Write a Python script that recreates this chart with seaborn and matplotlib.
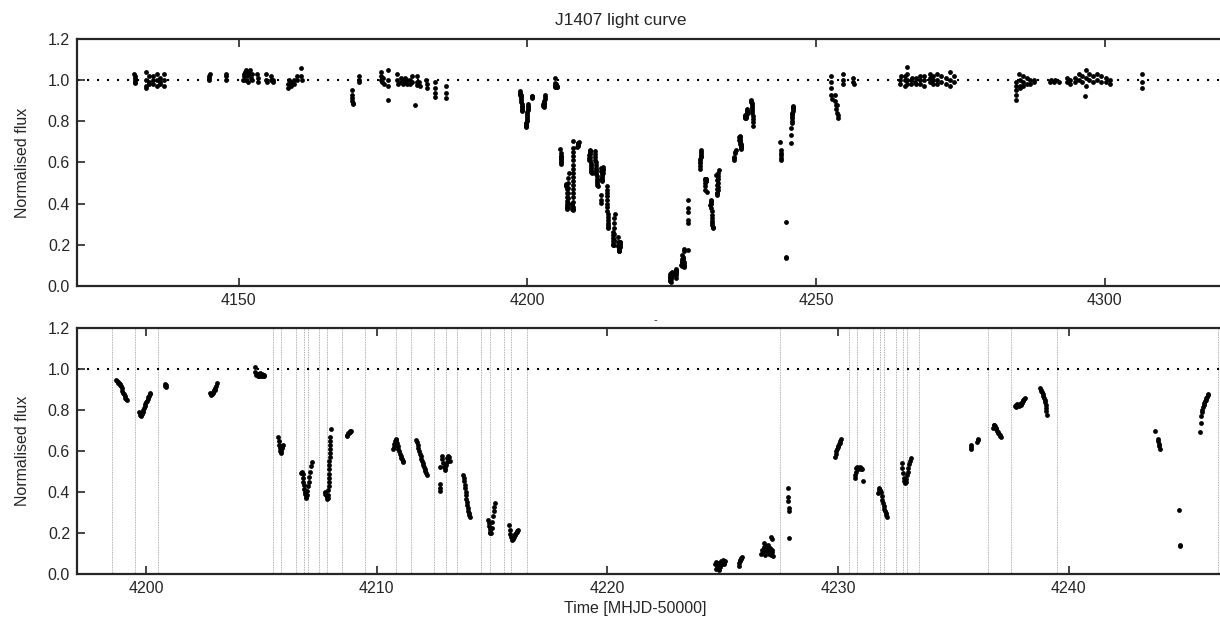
import numpy as np
import pandas as pd
import matplotlib
matplotlib.use('Agg')
import matplotlib.pyplot as plt
import seaborn as sns

# light curve points inside the zoomed window (MHJD-50000, normalised flux)
t_zoom = [
    4198.70, 4198.73, 4198.76, 4198.79, 4198.82, 4198.85, 4198.88, 4198.91, 4198.94, 4198.97, 4199.00, 4199.03, 4199.06, 4199.09, 4199.12, 4199.15,
    4199.70, 4199.73, 4199.76, 4199.79, 4199.82, 4199.85, 4199.88, 4199.91, 4199.94, 4199.97, 4200.00, 4200.03, 4200.06, 4200.09, 4200.12, 4200.15, 4200.17,
    4200.80, 4200.82, 4200.84, 4200.86,
    4202.76, 4202.79, 4202.82, 4202.85, 4202.88, 4202.91, 4202.94, 4202.97, 4203.00, 4203.03, 4203.06,
    4204.72, 4204.74, 4204.77, 4204.80, 4204.83, 4204.86, 4204.89, 4204.92, 4204.95, 4204.98, 4205.01, 4205.04, 4205.07, 4205.10, 4205.13,
    4205.73, 4205.76, 4205.78, 4205.80, 4205.82, 4205.84, 4205.86, 4205.88, 4205.90, 4205.92,
    4206.72, 4206.75, 4206.78, 4206.80, 4206.82, 4206.84, 4206.86, 4206.88, 4206.90, 4206.92, 4206.94, 4206.96, 4206.99, 4207.02, 4207.05, 4207.08, 4207.11, 4207.14, 4207.17,
    4207.74, 4207.77, 4207.80, 4207.83, 4207.86, 4207.89,
    4207.90, 4207.905, 4207.91, 4207.92, 4207.925, 4207.93, 4207.94, 4207.945, 4207.95, 4207.96, 4207.965, 4207.97, 4207.98, 4207.985, 4207.99, 4208.00,
    4208.70, 4208.73, 4208.76, 4208.79, 4208.82, 4208.85, 4208.88,
    4210.70, 4210.73, 4210.76, 4210.79, 4210.82, 4210.85, 4210.88, 4210.91, 4210.94, 4210.97, 4211.00, 4211.03, 4211.06, 4211.09, 4211.12, 4211.15,
    4211.72, 4211.75, 4211.78, 4211.81, 4211.84, 4211.87, 4211.90, 4211.93, 4211.96, 4211.99, 4212.02, 4212.05, 4212.08, 4212.11, 4212.14, 4212.17,
    4212.73, 4212.74, 4212.75, 4212.76,
    4212.82, 4212.85, 4212.88, 4212.91, 4212.94, 4212.97, 4213.00, 4213.03, 4213.06, 4213.09, 4213.13, 4213.17,
    4213.75, 4213.77, 4213.79, 4213.81, 4213.83, 4213.85, 4213.87, 4213.89, 4213.91, 4213.93, 4213.95, 4213.97, 4213.99, 4214.01, 4214.03,
    4214.83, 4214.85, 4214.87, 4214.89, 4214.91, 4214.93, 4214.95, 4214.98, 4215.01, 4215.04, 4215.07, 4215.10, 4215.13,
    4215.74, 4215.77, 4215.80, 4215.83, 4215.86, 4215.89, 4215.92, 4215.95, 4215.98, 4216.01, 4216.04, 4216.07, 4216.10, 4216.13,
    4224.66, 4224.70, 4224.74, 4224.78, 4224.82, 4224.86, 4224.90, 4224.94, 4224.98, 4225.02, 4225.06, 4225.10, 4224.72, 4224.80, 4224.88, 4224.96, 4225.04,
    4225.70, 4225.72, 4225.74, 4225.76, 4225.78, 4225.80, 4225.84,
    4226.68, 4226.72, 4226.76, 4226.80, 4226.84, 4226.88, 4226.92, 4226.96, 4227.00, 4227.04, 4227.08, 4227.12, 4227.16, 4227.19, 4226.78, 4226.90, 4227.02, 4227.10, 4227.14,
    4227.84, 4227.85, 4227.855, 4227.86, 4227.865, 4227.87,
    4229.87, 4229.90, 4229.93, 4229.96, 4229.99, 4230.02, 4230.05, 4230.08, 4230.11, 4230.14,
    4230.74, 4230.76, 4230.78, 4230.80, 4230.83, 4230.86, 4230.89, 4230.92, 4230.95, 4230.98, 4231.01, 4231.04, 4231.08,
    4231.74, 4231.77, 4231.80, 4231.83, 4231.86, 4231.89, 4231.92, 4231.95, 4231.98, 4232.01, 4232.04, 4232.07, 4232.10, 4232.13,
    4232.76, 4232.79, 4232.82, 4232.85, 4232.88, 4232.91, 4232.94, 4232.97, 4233.00, 4233.03, 4233.06, 4233.09, 4233.12, 4233.15,
    4235.75, 4235.77, 4235.79, 4236.05, 4236.07, 4236.09,
    4236.72, 4236.75, 4236.78, 4236.81, 4236.84, 4236.87, 4236.90, 4236.93, 4236.96, 4236.99, 4237.02, 4237.05, 4237.08,
    4237.68, 4237.71, 4237.74, 4237.77, 4237.80, 4237.83, 4237.86, 4237.89, 4237.92, 4237.95, 4237.98, 4238.01, 4238.04, 4238.07, 4238.10,
    4238.76, 4238.79, 4238.82, 4238.85, 4238.88, 4238.91, 4238.94, 4238.97, 4239.00, 4239.02, 4239.03, 4239.04, 4239.05,
    4243.75, 4243.88, 4243.90, 4243.92, 4243.94, 4243.96,
    4244.80, 4244.82, 4244.84,
    4245.72, 4245.74, 4245.76, 4245.78, 4245.80, 4245.83, 4245.86, 4245.89, 4245.92, 4245.95, 4245.98, 4246.01, 4246.04, 4246.07,
]
f_zoom = [
    0.945, 0.940, 0.936, 0.933, 0.930, 0.928, 0.924, 0.915, 0.905, 0.895, 0.885, 0.876, 0.868, 0.860, 0.853, 0.848,
    0.790, 0.778, 0.772, 0.775, 0.780, 0.790, 0.800, 0.808, 0.818, 0.828, 0.838, 0.846, 0.855, 0.862, 0.870, 0.876, 0.882,
    0.925, 0.918, 0.912, 0.922,
    0.885, 0.876, 0.872, 0.878, 0.882, 0.890, 0.896, 0.900, 0.908, 0.918, 0.930,
    1.010, 0.985, 0.970, 0.978, 0.965, 0.975, 0.968, 0.980, 0.972, 0.966, 0.976, 0.970, 0.965, 0.972, 0.968,
    0.668, 0.648, 0.630, 0.615, 0.600, 0.592, 0.600, 0.615, 0.625, 0.630,
    0.492, 0.496, 0.488, 0.470, 0.450, 0.432, 0.415, 0.400, 0.388, 0.378, 0.372, 0.385, 0.405, 0.428, 0.450, 0.475, 0.500, 0.525, 0.548,
    0.400, 0.392, 0.385, 0.375, 0.368, 0.372,
    0.385, 0.41, 0.43, 0.45, 0.47, 0.49, 0.51, 0.53, 0.55, 0.57, 0.59, 0.61, 0.63, 0.65, 0.67, 0.705,
    0.675, 0.680, 0.686, 0.690, 0.694, 0.697, 0.700,
    0.612, 0.620, 0.635, 0.650, 0.660, 0.655, 0.640, 0.625, 0.610, 0.598, 0.587, 0.577, 0.568, 0.560, 0.553, 0.548,
    0.655, 0.642, 0.628, 0.614, 0.600, 0.587, 0.575, 0.563, 0.552, 0.542, 0.532, 0.522, 0.512, 0.502, 0.492, 0.484,
    0.440, 0.420, 0.405, 0.522,
    0.575, 0.560, 0.540, 0.520, 0.508, 0.515, 0.530, 0.548, 0.565, 0.578, 0.570, 0.550,
    0.485, 0.468, 0.452, 0.435, 0.418, 0.400, 0.383, 0.366, 0.350, 0.335, 0.320, 0.307, 0.296, 0.287, 0.280,
    0.262, 0.248, 0.232, 0.218, 0.205, 0.198, 0.200, 0.225, 0.255, 0.282, 0.305, 0.328, 0.348,
    0.240, 0.215, 0.195, 0.180, 0.168, 0.170, 0.175, 0.182, 0.190, 0.196, 0.202, 0.207, 0.212, 0.216,
    0.050, 0.060, 0.040, 0.030, 0.055, 0.020, 0.045, 0.065, 0.050, 0.070, 0.055, 0.062, 0.025, 0.045, 0.035, 0.058, 0.048,
    0.040, 0.055, 0.062, 0.068, 0.072, 0.078, 0.082,
    0.100, 0.115, 0.108, 0.130, 0.095, 0.120, 0.110, 0.140, 0.100, 0.125, 0.095, 0.115, 0.105, 0.090, 0.150, 0.135, 0.120, 0.180, 0.170,
    0.418, 0.378, 0.358, 0.322, 0.308, 0.177,
    0.570, 0.585, 0.598, 0.608, 0.618, 0.625, 0.632, 0.640, 0.650, 0.660,
    0.468, 0.485, 0.500, 0.515, 0.522, 0.518, 0.512, 0.516, 0.520, 0.514, 0.518, 0.512, 0.455,
    0.395, 0.410, 0.418, 0.412, 0.398, 0.380, 0.362, 0.345, 0.330, 0.318, 0.306, 0.296, 0.288, 0.280,
    0.540, 0.515, 0.492, 0.470, 0.452, 0.443, 0.450, 0.465, 0.482, 0.500, 0.518, 0.535, 0.550, 0.565,
    0.610, 0.620, 0.628, 0.645, 0.652, 0.660,
    0.710, 0.725, 0.728, 0.722, 0.712, 0.705, 0.700, 0.692, 0.688, 0.682, 0.678, 0.672, 0.668,
    0.820, 0.825, 0.815, 0.830, 0.822, 0.826, 0.818, 0.828, 0.832, 0.826, 0.835, 0.842, 0.848, 0.852, 0.858,
    0.905, 0.900, 0.895, 0.888, 0.880, 0.870, 0.860, 0.850, 0.840, 0.825, 0.810, 0.795, 0.778,
    0.700, 0.660, 0.648, 0.635, 0.622, 0.612,
    0.312, 0.142, 0.135,
    0.695, 0.735, 0.770, 0.790, 0.800, 0.815, 0.825, 0.835, 0.842, 0.850, 0.858, 0.865, 0.872, 0.876,
]

# points outside the zoomed window (only in the full light curve)
t_wide = [
    4131.95, 4132.00, 4132.02, 4132.06, 4132.10, 4132.12,
    4133.92, 4133.95, 4133.98, 4134.00, 4134.50, 4134.53, 4134.55, 4135.18, 4135.21, 4135.24,
    4135.78, 4135.80, 4135.83, 4136.35, 4136.38, 4136.40, 4137.03, 4137.06, 4137.09,
    4144.78, 4144.85, 4144.95, 4145.02, 4147.78, 4147.82, 4147.86,
    4150.75, 4150.85, 4150.95, 4151.05, 4151.15, 4151.25, 4151.40, 4151.55, 4151.70, 4151.80,
    4152.00, 4152.10, 4152.25, 4152.40, 4153.25, 4153.30, 4153.35,
    4154.75, 4154.80, 4154.85, 4155.55, 4155.60, 4155.90, 4155.95,
    4158.55, 4158.60, 4158.65, 4159.10, 4159.15, 4159.55, 4159.60, 4160.10, 4160.15, 4160.80, 4160.85, 4160.90,
    4169.65, 4169.68, 4169.70, 4169.72, 4169.75, 4169.78, 4170.85, 4170.88, 4170.90,
    4174.60, 4174.65, 4174.70, 4174.75, 4175.05, 4175.10, 4175.85, 4175.90, 4175.92, 4175.95,
    4177.45, 4177.50, 4177.55, 4178.10, 4178.15, 4178.45, 4178.50, 4178.80, 4178.85, 4179.20,
    4179.25, 4179.60, 4179.65, 4179.95, 4180.00, 4180.55,
    4180.85, 4180.90, 4180.95, 4181.30, 4181.35, 4182.50, 4182.55, 4182.60,
    4184.00, 4184.03, 4184.06, 4184.10, 4185.88, 4185.90, 4185.92,
    4252.55, 4252.60, 4252.65, 4252.70, 4252.75, 4253.30, 4253.35, 4253.40, 4253.50, 4253.60,
    4253.70, 4253.80, 4253.85, 4254.70, 4254.72, 4254.75, 4256.45, 4256.50, 4256.55,
    4264.60, 4264.63, 4264.66, 4265.35, 4265.38, 4265.42, 4265.75, 4265.78, 4265.80, 4265.83,
    4266.50, 4266.55, 4266.58, 4267.25, 4267.28, 4267.30, 4267.95, 4268.00, 4268.02,
    4268.70, 4268.74, 4268.78, 4269.68, 4269.72, 4269.75, 4270.25, 4270.30, 4270.35,
    4270.95, 4271.00, 4271.02, 4271.70, 4271.75, 4272.58, 4272.62, 4273.15, 4273.20, 4273.25,
    4273.85, 4273.90,
    4284.58, 4284.60, 4284.62, 4284.64, 4284.66, 4285.25, 4285.29, 4285.32, 4285.35,
    4285.85, 4285.88, 4285.90, 4286.55, 4286.58, 4287.12, 4287.15, 4287.70, 4287.73,
    4290.55, 4290.65, 4291.30, 4291.40, 4292.10,
    4293.49, 4293.52, 4294.07, 4294.10, 4294.81, 4294.84, 4295.56, 4295.60, 4296.14, 4296.17,
    4296.72, 4296.75, 4296.78, 4296.70, 4297.29, 4297.32, 4297.99, 4298.02, 4298.68, 4298.71,
    4299.43, 4299.46, 4300.18, 4300.21, 4300.87, 4300.90,
    4306.48, 4306.50, 4306.52,
]
f_wide = [
    1.03, 1.01, 0.99, 1.00, 1.02, 0.985,
    1.04, 1.00, 0.97, 0.96, 1.02, 0.99, 0.98, 1.02, 1.00, 0.98,
    1.03, 1.00, 0.97, 1.01, 0.99, 0.98, 1.03, 1.00, 0.97,
    1.00, 1.02, 1.01, 1.03, 1.00, 1.02, 1.03,
    1.00, 1.03, 1.02, 1.04, 1.00, 1.05, 1.02, 1.04, 0.99, 1.03,
    1.05, 1.01, 1.03, 1.00, 1.03, 1.01, 0.99,
    1.03, 1.00, 0.99, 1.02, 1.00, 1.00, 0.99,
    0.98, 0.96, 1.00, 0.97, 0.99, 0.98, 1.00, 1.00, 1.02, 1.06, 1.02, 1.00,
    0.95, 0.93, 0.915, 0.90, 0.89, 0.885, 1.00, 1.02, 0.99,
    1.02, 1.04, 1.00, 0.99, 1.01, 0.98, 1.05, 1.00, 0.97, 0.904,
    1.03, 1.00, 0.98, 1.01, 0.99, 1.00, 0.98, 1.01, 0.99, 0.98,
    1.00, 0.98, 1.00, 1.02, 0.99, 0.88,
    1.02, 0.99, 0.975, 0.99, 0.97, 1.00, 0.98, 0.96,
    0.99, 0.96, 0.94, 0.92, 0.97, 0.94, 0.915,
    1.02, 0.99, 0.96, 0.93, 0.91, 0.93, 0.90, 0.88, 0.86, 0.88,
    0.84, 0.83, 0.815, 1.03, 1.00, 0.98, 1.01, 0.99, 0.98,
    0.98, 1.00, 1.02, 1.00, 0.97, 1.02, 1.065, 1.03, 1.00, 0.98,
    1.00, 0.98, 1.01, 0.99, 1.01, 0.98, 1.00, 0.98, 1.02,
    0.97, 1.00, 1.02, 1.01, 0.99, 1.03, 1.02, 1.00, 0.98,
    1.00, 1.03, 0.98, 1.02, 0.99, 1.01, 0.98, 1.04, 1.00, 0.97,
    1.02, 0.99,
    0.905, 0.93, 0.95, 0.97, 0.99, 1.03, 1.00, 0.97, 0.96,
    1.02, 0.99, 0.97, 1.01, 0.98, 1.00, 0.98, 1.00, 0.99,
    0.99, 1.00, 0.99, 1.00, 0.99,
    0.99, 1.01, 0.98, 1.00, 1.01, 0.99, 1.03, 1.00, 1.02, 0.99,
    1.05, 1.01, 0.97, 0.925, 1.03, 1.00, 1.02, 0.99, 1.03, 1.00,
    1.02, 0.99, 1.01, 0.99, 1.00, 0.98,
    1.03, 0.99, 0.96,
]

# times of the vertical dotted markers in the zoom panel
gap_times = [4198.5, 4199.5, 4200.5, 4205.5, 4205.83, 4206.5, 4206.83, 4207.0, 4207.5,
             4207.83, 4208.5, 4209.5, 4210.83, 4211.5, 4212.5, 4213.0, 4213.5, 4214.5,
             4214.92, 4215.5, 4215.83, 4216.5, 4227.5, 4230.5, 4230.83, 4231.5, 4231.83,
             4232.0, 4232.5, 4232.83, 4233.0, 4233.5, 4236.5, 4237.5, 4239.5, 4246.5]

top_ticks = [4150, 4200, 4250, 4300]
bottom_ticks = [4200, 4210, 4220, 4230, 4240]
y_ticks = [0.0, 0.2, 0.4, 0.6, 0.8, 1.0, 1.2]

df = pd.DataFrame({'time': t_wide + t_zoom, 'flux': f_wide + f_zoom})

sns.set_style('ticks')
plt.rcParams['font.family'] = ['Liberation Sans', 'DejaVu Sans']

fig = plt.figure(figsize=(12.2, 6.33), dpi=100)
ax1 = fig.add_axes([77/1220, 1 - 286/633, 1143/1220, 247/633])
ax2 = fig.add_axes([77/1220, 1 - 574/633, 1143/1220, 246/633])

for ax, xlim, ticks in [(ax1, (4122, 4320), top_ticks), (ax2, (4197, 4246.57), bottom_ticks)]:
    if ax is ax2:
        for g in gap_times:
            ax.axvline(g, color='0.6', linestyle=(0, (1, 1)), linewidth=0.6, zorder=1)
    ax.axhline(1.0, color='black', linestyle=(0, (1, 3.8)), linewidth=1.5,
               dash_capstyle='butt', zorder=2)
    sns.scatterplot(data=df, x='time', y='flux', ax=ax, color='black', s=12,
                    linewidth=0, zorder=3, legend=False)
    ax.set_xlim(*xlim)
    ax.set_ylim(0, 1.2)
    ax.set_xticks(ticks)
    ax.set_yticks(y_ticks)
    ax.set_yticklabels([f'{v:.1f}' for v in y_ticks])
    ax.tick_params(direction='in', length=6, width=1.2, labelsize=11.5,
                   top=True, right=False, pad=5)
    for side in ['left', 'top', 'bottom']:
        ax.spines[side].set_linewidth(1.6)
    ax.spines['right'].set_visible(False)
    ax.set_xlabel('')
    ax.set_ylabel('Normalised flux', fontsize=11.5)
    ax.yaxis.set_label_coords(-0.041, 0.5)

ax1.set_title('J1407 light curve', fontsize=12.5, x=0.476, pad=10)
ax2.set_xlabel('Time [MHJD-50000]', fontsize=11.5)
ax2.xaxis.set_label_coords(0.488, -0.11)
fig.text(655/1220, 1 - 320/633, '-', fontsize=8, ha='center', va='center')

fig.savefig('out.png', dpi=100)
